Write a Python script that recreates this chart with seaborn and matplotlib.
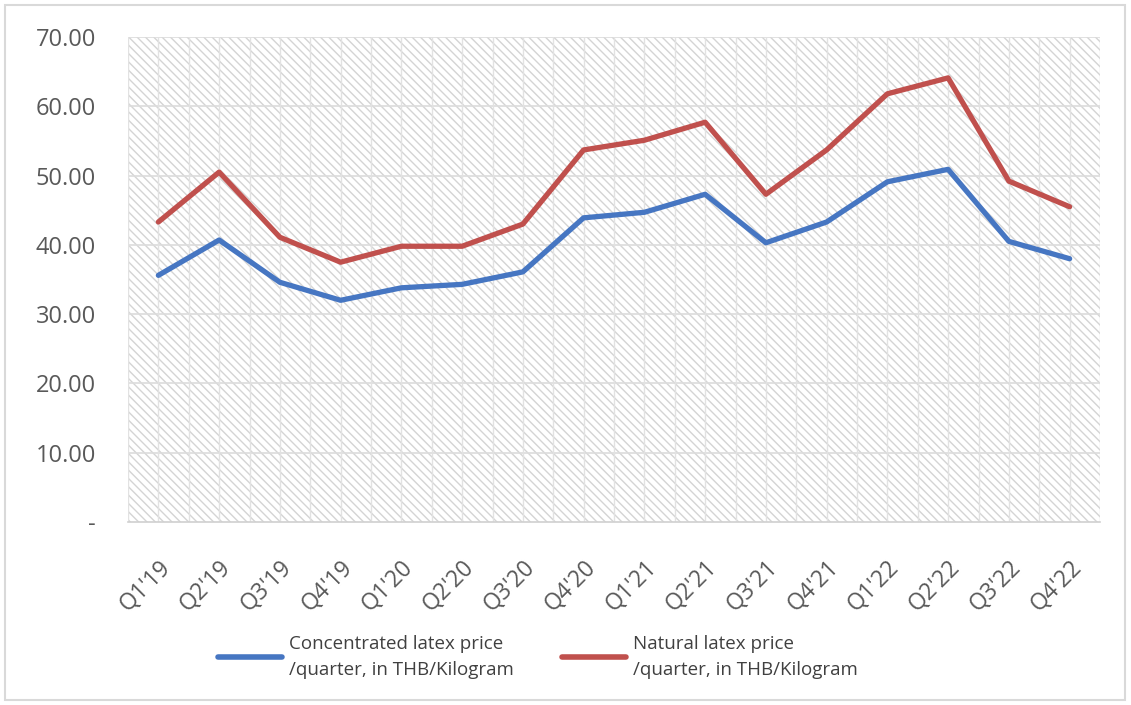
import matplotlib
matplotlib.use("Agg")
import matplotlib.pyplot as plt
import seaborn as sns
import pandas as pd
import numpy as np
from matplotlib.patches import Rectangle

quarters = ["Q1'19", "Q2'19", "Q3'19", "Q4'19", "Q1'20", "Q2'20", "Q3'20", "Q4'20",
            "Q1'21", "Q2'21", "Q3'21", "Q4'21", "Q1'22", "Q2'22", "Q3'22", "Q4'22"]
concentrated = [35.6, 40.7, 34.6, 32.0, 33.8, 34.3, 36.1, 43.9,
                44.7, 47.3, 40.3, 43.3, 49.1, 50.9, 40.5, 38.0]
natural = [43.3, 50.5, 41.1, 37.5, 39.8, 39.8, 43.0, 53.7,
           55.1, 57.7, 47.3, 53.7, 61.8, 64.1, 49.2, 45.5]
series_names = ["Concentrated latex price\n/quarter, in THB/Kilogram",
                "Natural latex price\n/quarter, in THB/Kilogram"]
y_ticks = [0, 10, 20, 30, 40, 50, 60, 70]
y_tick_labels = ["-", "10.00", "20.00", "30.00", "40.00", "50.00", "60.00", "70.00"]

df = pd.DataFrame({
    "idx": list(range(len(quarters))) * 2,
    "value": concentrated + natural,
    "series": [series_names[0]] * len(quarters) + [series_names[1]] * len(quarters),
})

sns.set_theme(style="white")
plt.rcParams['font.family'] = ['Open Sans', 'DejaVu Sans']
plt.rcParams['hatch.color'] = '#d4d4d4'
plt.rcParams['hatch.linewidth'] = 1.0

fig = plt.figure(figsize=(11.31, 7.05), dpi=100)
ax = fig.add_axes([128/1131, 1-522/705, (1100-128)/1131, (522-37)/705])

# hatched background
bg = Rectangle((0, 0), 1, 1, transform=ax.transAxes, facecolor='white',
               edgecolor='#d4d4d4', hatch='\\\\\\\\', linewidth=0, zorder=0)
ax.add_patch(bg)

sns.lineplot(data=df, x="idx", y="value", hue="series",
             palette=["#4676C2", "#C0504D"], linewidth=3.8, ax=ax,
             legend=True, zorder=3)

ax.set_xlim(-0.5, len(quarters) - 0.5)
ax.set_ylim(0, 70)
ax.set_yticks(y_ticks)
ax.set_yticklabels(y_tick_labels)
ax.set_xticks(range(len(quarters)))
ax.set_xticklabels(quarters, rotation=45, ha='right', rotation_mode='anchor')
ax.set_xlabel("")
ax.set_ylabel("")

# gridlines
for y in y_ticks[1:]:
    ax.axhline(y, color='#dcdcdc', linewidth=1.2, zorder=1)
for x in np.arange(-0.5, len(quarters), 0.5):
    ax.axvline(x, color='#e2e2e2', linewidth=1.0, zorder=1)

ax.tick_params(axis='y', length=0, pad=23, labelsize=17, labelcolor='#595959')
ax.tick_params(axis='x', length=0, pad=24, labelsize=16.5, labelcolor='#595959')
for s in ["top", "right", "left"]:
    ax.spines[s].set_visible(False)
ax.spines["bottom"].set_color('#d0d0d0')
ax.spines["bottom"].set_linewidth(1.2)

handles, labels = ax.get_legend_handles_labels()
ax.get_legend().remove()
leg = fig.legend(handles, labels, loc='center', bbox_to_anchor=(538/1131, 1-657/705),
                 ncol=2, frameon=False, fontsize=13.5, handlelength=3.4,
                 handletextpad=0.35, columnspacing=2.6, labelcolor='#404040')
for t in leg.get_texts():
    t.set_linespacing(1.6)
for l in leg.get_lines():
    l.set_linewidth(4)

# figure border
fig.add_artist(Rectangle((5/1131, 5/705), 1-11/1131, 1-10/705, transform=fig.transFigure,
                         fill=False, edgecolor='#d9d9d9', linewidth=1.5))

fig.savefig("out.png", dpi=100)
